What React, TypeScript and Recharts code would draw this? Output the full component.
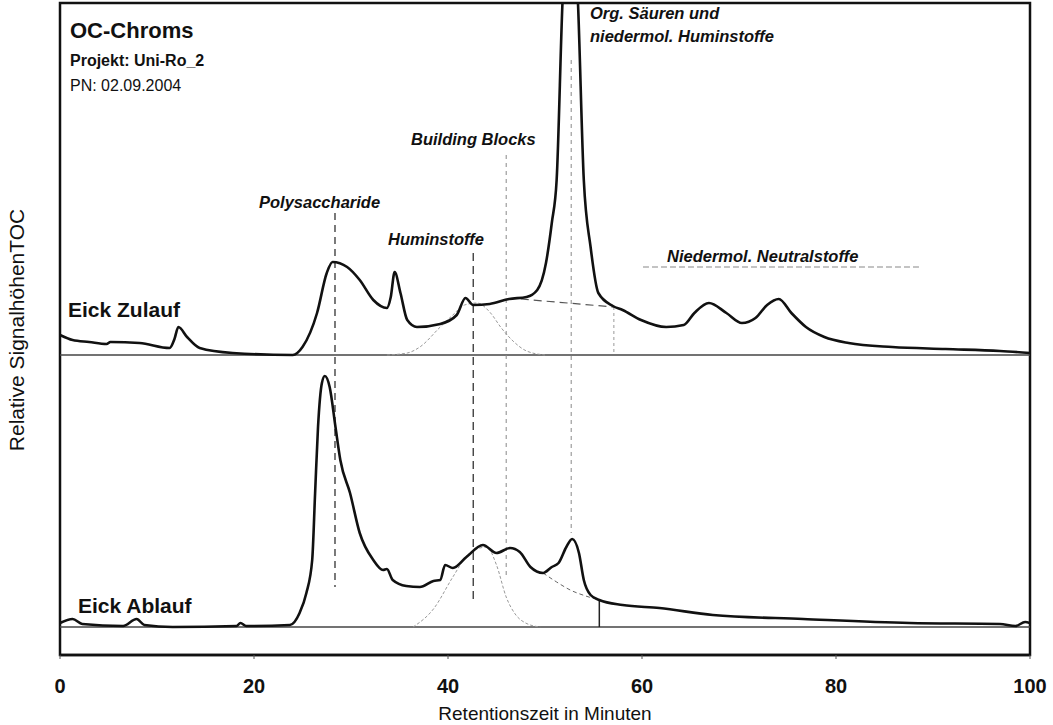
import { LineChart, Line, XAxis, YAxis, ReferenceLine, ReferenceArea } from "recharts";

// Eick Zulauf: retention time (min) and TOC signal above its baseline
const zulaufTime = [
  0, 1.3, 3, 4.8, 5.2, 8.2, 11.3, 11.8, 12.2, 13.1, 14.4, 17.8, 24, 25, 26.5, 27.5, 28.1, 29.6, 30.9,
  32.3, 33.7, 34.1, 34.5, 35.1, 35.8, 36.8, 39.2, 40.9, 41.8, 42.6, 44.3, 46.3, 48.1, 49.2, 50.1,
  50.7, 51.2, 51.8, 52.6, 53.4, 54.0, 54.7, 55.5, 57.0, 58.0, 59.9, 62.5, 64.3, 65.4, 66.9, 68.7,
  70.3, 71.7, 72.9, 74.1, 75.4, 76.9, 78.8, 81.3, 85.8, 91.3, 96.9, 100,
];
const zulaufSignal = [
  20, 15, 13, 11, 13, 12, 7, 16, 28, 18, 7, 2, 0, 8, 42, 82, 93, 88, 75,
  55, 47, 58, 83, 62, 35, 28, 31, 40, 57, 50, 51, 56, 58, 65, 92,
  132, 175, 352, 470, 352, 175, 108, 62, 49, 45, 35, 28, 30, 42, 52, 42,
  32, 37, 50, 56, 42, 28, 18, 12, 8, 6, 4, 2,
];

// Eick Ablauf
const ablaufTime = [
  0, 1.3, 2.3, 6.5, 7.9, 8.7, 11.6, 18.2, 18.6, 19.2, 23.7, 24.7, 25.4, 26.0, 26.3, 26.6, 27.0, 27.3,
  27.8, 28.4, 28.9, 29.9, 30.9, 32.3, 33.3, 33.7, 34.3, 35.7, 37.1, 38.5, 39.2, 39.7, 40.5, 41.9,
  43.6, 45.0, 46.4, 47.4, 48.5, 49.8, 50.7, 51.4, 52.2, 52.8, 53.5, 54.0, 54.7, 55.6, 58.0, 61.8,
  67.3, 76.6, 87.6, 96.9, 98.5, 99.5, 100,
];
const ablaufSignal = [
  4, 8, 3, 1, 8, 2, 0, 1, 4, 1, 2, 14, 34, 67, 134, 200, 244, 251,
  240, 200, 167, 134, 94, 67, 57, 58, 47, 41, 40, 46, 47, 62, 59, 70,
  82, 74, 79, 75, 60, 54, 60, 64, 80, 88, 74, 47, 32, 27, 22, 19,
  12, 8, 4, 3, 1, 5, 4,
];

// fitted Huminstoffe peaks
const zulaufHumTime = [33.7, 35.8, 37.1, 39.2, 40.5, 41.7, 43.0, 44.3, 45.5, 46.7, 48.1, 50.0];
const zulaufHumSignal = [0, 2, 8, 28, 40, 50, 52, 43, 27, 14, 4, 0];
const ablaufHumTime = [36.4, 38.5, 40.5, 42.0, 43.0, 44.0, 45.0, 46.0, 47.0, 48.0, 49.5];
const ablaufHumSignal = [0, 18, 50, 72, 78, 80, 62, 30, 12, 4, 0];

// Building-Blocks baselines
const zulaufBbTime = [47.5, 57.1];
const zulaufBbSignal = [56, 48];
const ablaufBbTime = [49.8, 51.2, 52.6, 54.2, 55.6];
const ablaufBbSignal = [54, 45, 37, 31, 27];

const xTicks = [0, 20, 40, 60, 80, 100];

const Y_MAX = 652;
const ZULAUF_BASE = 300;
const ABLAUF_BASE = 28;

const toRows = (time: number[], signal: number[], base: number) =>
  time.map((t, i) => ({ t, v: base + signal[i] }));

const zulauf = toRows(zulaufTime, zulaufSignal, ZULAUF_BASE);
const ablauf = toRows(ablaufTime, ablaufSignal, ABLAUF_BASE);
const zulaufHum = toRows(zulaufHumTime, zulaufHumSignal, ZULAUF_BASE);
const ablaufHum = toRows(ablaufHumTime, ablaufHumSignal, ABLAUF_BASE);
const zulaufBb = toRows(zulaufBbTime, zulaufBbSignal, ZULAUF_BASE);
const ablaufBb = toRows(ablaufBbTime, ablaufBbSignal, ABLAUF_BASE);

const sans = "'Liberation Sans', Arial, sans-serif";
const narrow = "'Liberation Sans Narrow', 'Arial Narrow', 'Liberation Sans', sans-serif";

const italicLabel = {
  fontFamily: sans,
  fontStyle: "italic" as const,
  fontWeight: 700,
  fontSize: 16.5,
  fill: "#111",
};

export default function App() {
  return (
    <div style={{ position: "absolute", left: 0, top: 0, width: 1053, height: 725, background: "#fff" }}>
      <LineChart
        width={1053}
        height={725}
        margin={{ top: 3, right: 23, bottom: 40, left: 60 }}
      >
        <XAxis
          dataKey="t"
          type="number"
          domain={[0, 100]}
          ticks={xTicks}
          allowDataOverflow
          height={30}
          axisLine={{ stroke: "#111", strokeWidth: 2.5 }}
          tickLine={{ stroke: "#555" }}
          tickSize={4}
          tickMargin={20}
          tick={{ fontFamily: narrow, fontWeight: 700, fontSize: 20, fill: "#111" }}
        />
        <YAxis type="number" domain={[0, Y_MAX]} allowDataOverflow hide />

        <ReferenceArea x1={0} x2={100} y1={0} y2={Y_MAX} fill="none" stroke="#111" strokeWidth={2.5} />

        {/* baselines of both traces */}
        <ReferenceLine y={ZULAUF_BASE} stroke="#444" strokeWidth={1.5} />
        <ReferenceLine y={ABLAUF_BASE} stroke="#444" strokeWidth={1.5} />

        {/* fraction markers */}
        <ReferenceLine segment={[{ x: 28.35, y: 442 }, { x: 28.35, y: 68 }]} stroke="#222" strokeWidth={1.2} strokeDasharray="7 5" />
        <ReferenceLine segment={[{ x: 42.6, y: 402 }, { x: 42.6, y: 55 }]} stroke="#222" strokeWidth={1.2} strokeDasharray="8 5" />
        <ReferenceLine segment={[{ x: 46.0, y: 500 }, { x: 46.0, y: 78 }]} stroke="#888" strokeWidth={1} strokeDasharray="4 4" />
        <ReferenceLine segment={[{ x: 52.7, y: 595 }, { x: 52.7, y: 122 }]} stroke="#888" strokeWidth={1} strokeDasharray="4 4" />
        <ReferenceLine segment={[{ x: 57.1, y: ZULAUF_BASE + 48 }, { x: 57.1, y: ZULAUF_BASE }]} stroke="#999" strokeWidth={1} strokeDasharray="3 3" />
        <ReferenceLine segment={[{ x: 55.6, y: ABLAUF_BASE + 27 }, { x: 55.6, y: ABLAUF_BASE }]} stroke="#222" strokeWidth={1.5} />
        <ReferenceLine segment={[{ x: 60.1, y: 388 }, { x: 88.6, y: 388 }]} stroke="#888" strokeWidth={1.2} strokeDasharray="6 3" />

        <Line data={zulaufHum} dataKey="v" type="monotone" stroke="#999" strokeWidth={1} strokeDasharray="3 2" dot={false} isAnimationActive={false} />
        <Line data={ablaufHum} dataKey="v" type="monotone" stroke="#999" strokeWidth={1} strokeDasharray="3 2" dot={false} isAnimationActive={false} />
        <Line data={zulaufBb} dataKey="v" type="linear" stroke="#555" strokeWidth={1.2} strokeDasharray="8 5" dot={false} isAnimationActive={false} />
        <Line data={ablaufBb} dataKey="v" type="monotone" stroke="#666" strokeWidth={1} strokeDasharray="4 3" dot={false} isAnimationActive={false} />

        <Line data={zulauf} dataKey="v" type="monotone" stroke="#111" strokeWidth={2.6} dot={false} isAnimationActive={false} />
        <Line data={ablauf} dataKey="v" type="monotone" stroke="#111" strokeWidth={2.6} dot={false} isAnimationActive={false} />
      </LineChart>

      <svg width={1053} height={725} style={{ position: "absolute", left: 0, top: 0, pointerEvents: "none" }}>
        <text x={70} y={38} fontFamily={sans} fontWeight={700} fontSize={22} fill="#111">OC-Chroms</text>
        <text x={70} y={66} fontFamily={sans} fontWeight={700} fontSize={16} fill="#111">Projekt: Uni-Ro_2</text>
        <text x={70} y={91} fontFamily={sans} fontSize={16} fill="#111">PN: 02.09.2004</text>

        <text x={590} y={19} {...italicLabel}>Org. Säuren und</text>
        <text x={590} y={42} {...italicLabel}>niedermol. Huminstoffe</text>
        <text x={411} y={145} {...italicLabel}>Building Blocks</text>
        <text x={259} y={208} {...italicLabel}>Polysaccharide</text>
        <text x={388} y={245} {...italicLabel}>Huminstoffe</text>
        <text x={667} y={262} {...italicLabel}>Niedermol. Neutralstoffe</text>

        <text x={68} y={317} fontFamily={sans} fontWeight={700} fontSize={21} fill="#111">Eick Zulauf</text>
        <text x={78} y={613} fontFamily={sans} fontWeight={700} fontSize={21} fill="#111">Eick Ablauf</text>

        <text
          x={16}
          y={330}
          transform="rotate(-90 16 330)"
          textAnchor="middle"
          dominantBaseline="central"
          fontFamily={sans}
          fontSize={21}
          fill="#111"
        >
          Relative SignalhöhenTOC
        </text>
        <text x={545} y={720} textAnchor="middle" fontFamily={narrow} fontSize={19} fill="#111">
          Retentionszeit in Minuten
        </text>
      </svg>
    </div>
  );
}
